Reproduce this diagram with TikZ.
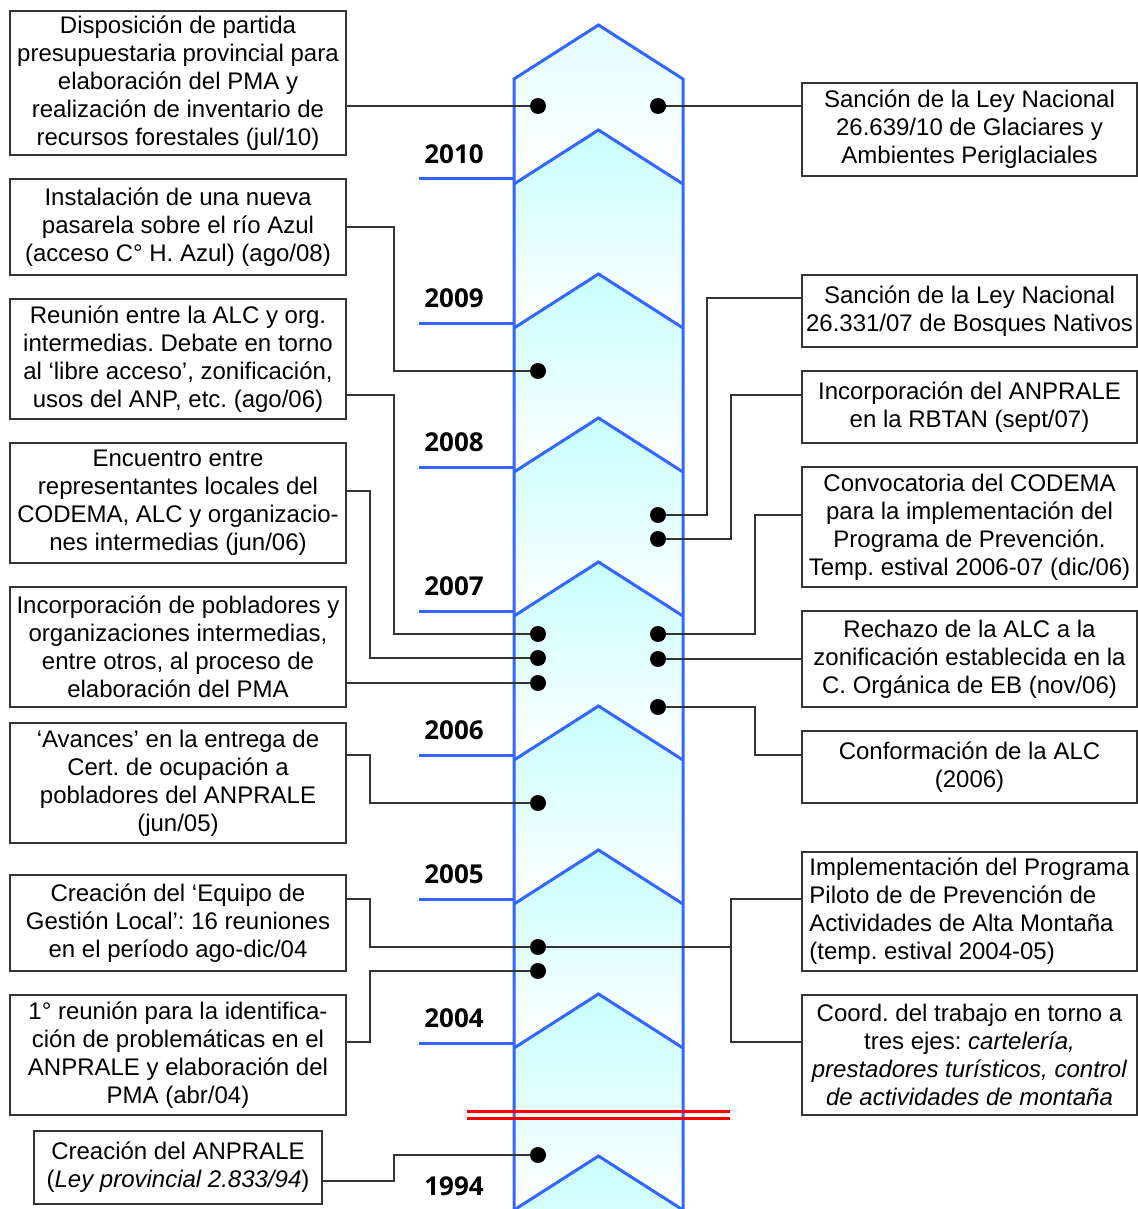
\documentclass[tikz,border=0pt]{standalone}
\usepackage{fontspec}
\setmainfont{Liberation Sans}
\newfontfamily\yearfont{Open Sans}
\usetikzlibrary{calc}
\frenchspacing
\definecolor{bandblue}{HTML}{3366FF}
\definecolor{bandfill}{HTML}{C8FFFF}
\definecolor{boxgray}{HTML}{333333}
\tikzset{
  eventbox/.style={draw=boxgray,line width=1.5pt,align=center,inner sep=0pt,
    minimum width=336pt,font=\fontsize{24}{28}\selectfont},
  yearlabel/.style={font=\yearfont\bfseries\fontsize{26}{30}\selectfont},
  yearline/.style={draw=bandblue,line width=3pt},
  bandline/.style={draw=bandblue,line width=3pt,line join=miter},
  linkline/.style={draw=black!80,line width=1.5pt},
  eventdot/.style={circle,fill=black,minimum size=16pt,inner sep=0pt},
  breakline/.style={draw=red,line width=3pt}
}

\begin{document}
\begin{tikzpicture}[x=1pt,y=-1pt]
  \useasboundingbox (0,0) rectangle (1137,1209);
  % band of chevrons
  \shade[top color=bandfill!50,bottom color=white]
    (514,79) -- (598.5,25) -- (683,79) -- (683,184) -- (598.5,130) -- (514,184) -- cycle;
  \foreach \p/\q in {130/274,274/418,418/562,562/706,706/850,850/994,994/1156,1156/1300}
    \shade[top color=bandfill,bottom color=white]
      (514,\p+54) -- (598.5,\p) -- (683,\p+54) -- (683,\q+54) -- (598.5,\q) -- (514,\q+54) -- cycle;
  \draw[bandline] (514,1212) -- (514,79) -- (598.5,25) -- (683,79) -- (683,1212);
  \foreach \p in {130,274,418,562,706,850,994,1156}
    \draw[bandline] (514,\p+54) -- (598.5,\p) -- (683,\p+54);
  % years
  \foreach \yr/\y in {2010/179,2009/323,2008/467,2007/611,2006/755,2005/899,2004/1043} {
    \draw[yearline] (419,\y) -- (514,\y);
    \node[yearlabel] (y\yr) at (454,\y-25) {\yr};
  }
  \node[yearlabel] (y1994) at (454,1186) {1994};
  \draw[breakline] (467,1111) -- (730,1111);
  \draw[breakline] (467,1118) -- (730,1118);

  % left events
  \node[eventbox,minimum height=144pt] (eL1) at (178,83)
    {Disposición de partida\\presupuestaria provincial para\\elaboración del PMA y\\realización de inventario de\\recursos forestales (jul/10)};
  \node[eventbox,minimum height=96pt] (eL2) at (178,227)
    {Instalación de una nueva\\pasarela sobre el río Azul\\(acceso C° H. Azul) (ago/08)};
  \node[eventbox,minimum height=120pt] (eL3) at (178,359)
    {Reunión entre la ALC y org.\\intermedias. Debate en torno\\al ‘libre acceso’, zonificación,\\usos del ANP, etc. (ago/06)};
  \node[eventbox,minimum height=120pt] (eL4) at (178,503)
    {Encuentro entre\\representantes locales del\\CODEMA, ALC y organizacio-\\nes intermedias (jun/06)};
  \node[eventbox,minimum height=120pt] (eL5) at (178,647)
    {Incorporación de pobladores y\\organizaciones intermedias,\\entre otros, al proceso de\\elaboración del PMA};
  \node[eventbox,minimum height=120pt] (eL6) at (178,783)
    {‘Avances’ en la entrega de\\Cert. de ocupación a\\pobladores del ANPRALE\\(jun/05)};
  \node[eventbox,minimum height=96pt] (eL7) at (178,923)
    {Creación del ‘Equipo de\\Gestión Local’: 16 reuniones\\en el período ago-dic/04};
  \node[eventbox,minimum height=120pt] (eL8) at (178,1055)
    {1° reunión para la identifica-\\ción de problemáticas en el\\ANPRALE y elaboración del\\PMA (abr/04)};
  \node[eventbox,minimum width=288pt,minimum height=73pt] (eL9) at (178,1167.5)
    {Creación del ANPRALE\\(\textit{Ley provincial 2.833/94})};

  % right events
  \node[eventbox,minimum width=335pt,minimum height=93pt] (eR1) at (969.5,129.5)
    {Sanción de la Ley Nacional\\26.639/10 de Glaciares y\\Ambientes Periglaciales};
  \node[eventbox,minimum width=335pt,minimum height=72pt] (eR2) at (969.5,311)
    {Sanción de la Ley Nacional\\26.331/07 de Bosques Nativos};
  \node[eventbox,minimum width=335pt,minimum height=72pt] (eR3) at (969.5,407)
    {Incorporación del ANPRALE\\en la RBTAN (sept/07)};
  \node[eventbox,minimum width=335pt,minimum height=120pt] (eR4) at (969.5,527)
    {Convocatoria del CODEMA\\para la implementación del\\Programa de Prevención.\\Temp. estival 2006-07 (dic/06)};
  \node[eventbox,minimum width=335pt,minimum height=96pt] (eR5) at (969.5,659)
    {Rechazo de la ALC a la\\zonificación establecida en la\\C. Orgánica de EB (nov/06)};
  \node[eventbox,minimum width=335pt,minimum height=72pt] (eR6) at (969.5,767)
    {Conformación de la ALC\\(2006)};
  \node[eventbox,align=left,minimum width=335pt,minimum height=119pt] (eR7) at (969.5,911.5)
    {Implementación del Programa\\Piloto de de Prevención de\\Actividades de Alta Montaña\\(temp. estival 2004-05)};
  \node[eventbox,minimum width=335pt,minimum height=120pt] (eR8) at (969.5,1055)
    {Coord. del trabajo en torno a\\tres ejes: \textit{cartelería,}\\\textit{prestadores turísticos, control}\\\textit{de actividades de montaña}};

  % dots on the band
  \node[eventdot] (dL1) at (538,106) {};
  \node[eventdot] (dL2) at (538,371) {};
  \node[eventdot] (dL3) at (538,634) {};
  \node[eventdot] (dL4) at (538,658) {};
  \node[eventdot] (dL5) at (538,683) {};
  \node[eventdot] (dL6) at (538,803) {};
  \node[eventdot] (dL7) at (538,947) {};
  \node[eventdot] (dL8) at (538,971) {};
  \node[eventdot] (dL9) at (538,1155) {};
  \node[eventdot] (dR1) at (658,106) {};
  \node[eventdot] (dR2) at (658,515) {};
  \node[eventdot] (dR3) at (658,539) {};
  \node[eventdot] (dR4) at (658,634) {};
  \node[eventdot] (dR5) at (658,659) {};
  \node[eventdot] (dR6) at (658,707) {};

  \coordinate (busL1) at (394,0);
  \coordinate (busL2) at (370,0);
  \coordinate (busR1) at (707,0);
  \coordinate (busR2) at (731,0);
  \coordinate (busR3) at (755,0);

  % connectors
  \draw[linkline] (eL1.east |- dL1) -- (dL1);
  \draw[linkline] (eL2.east) -| (busL1 |- dL2) -- (dL2);
  \draw[linkline] ($(eL3.east)+(0,36)$) -| (busL1 |- dL3) -- (dL3);
  \draw[linkline] ($(eL4.east)+(0,-12)$) -| (busL2 |- dL4) -- (dL4);
  \draw[linkline] (eL5.east |- dL5) -- (dL5);
  \draw[linkline] ($(eL6.east)+(0,-28)$) -| (busL2 |- dL6) -- (dL6);
  \draw[linkline] ($(eL7.east)+(0,-24)$) -| (busL2 |- dL7) -- (dL7) -- (busR2 |- dL7);
  \draw[linkline] (busR2 |- dL7) |- ($(eR7.west)+(0,-12.5)$);
  \draw[linkline] (busR2 |- dL7) |- ($(eR8.west)+(0,-13)$);
  \draw[linkline] ($(eL8.east)+(0,-13)$) -| (busL2 |- dL8) -- (dL8);
  \draw[linkline] ($(eL9.east)+(0,13.5)$) -| (busL1 |- dL9) -- (dL9);
  \draw[linkline] (dR1) -- (eR1.west |- dR1);
  \draw[linkline] ($(eR2.west)+(0,-13)$) -| (busR1 |- dR2) -- (dR2);
  \draw[linkline] ($(eR3.west)+(0,-12)$) -| (busR2 |- dR3) -- (dR3);
  \draw[linkline] ($(eR4.west)+(0,-12)$) -| (busR3 |- dR4) -- (dR4);
  \draw[linkline] (dR5) -- (eR5.west |- dR5);
  \draw[linkline] ($(eR6.west)+(0,-12)$) -| (busR3 |- dR6) -- (dR6);
\end{tikzpicture}
\end{document}
